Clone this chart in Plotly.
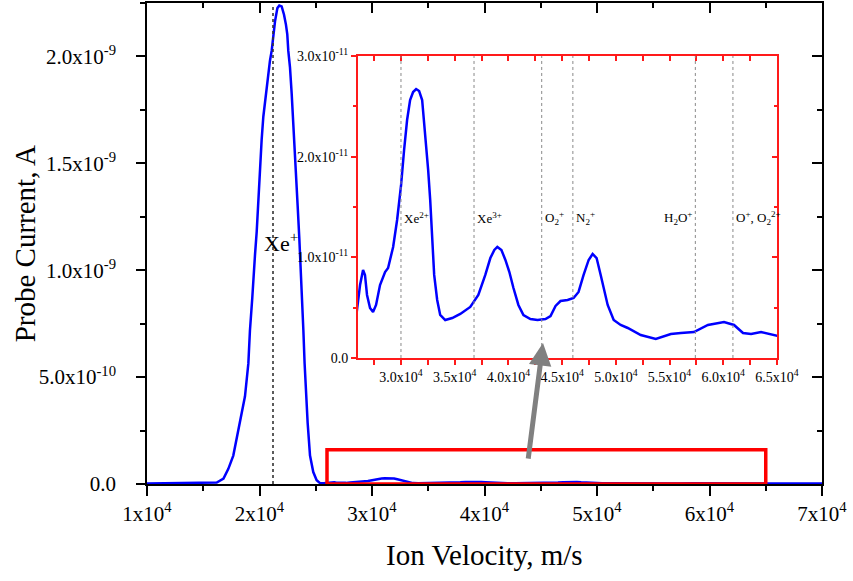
import plotly.graph_objects as go

# ---------------- data ----------------
velocity = [1.00e4, 1.20e4, 1.40e4, 1.55e4, 1.62e4, 1.68e4, 1.723e4, 1.767e4, 1.797e4, 1.841e4,
            1.871e4, 1.901e4, 1.915e4, 1.936e4, 1.945e4, 1.960e4, 1.975e4, 1.990e4, 2.004e4, 2.019e4,
            2.034e4, 2.064e4, 2.093e4, 2.108e4, 2.138e4, 2.159e4, 2.176e4, 2.197e4, 2.218e4, 2.235e4,
            2.247e4, 2.256e4, 2.271e4, 2.286e4, 2.307e4, 2.324e4, 2.339e4, 2.354e4, 2.366e4, 2.378e4,
            2.390e4, 2.401e4, 2.413e4, 2.428e4, 2.449e4, 2.478e4, 2.508e4, 2.538e4, 2.570e4,
            2.600e4, 2.619e4, 2.647e4, 2.665e4, 2.684e4, 2.712e4, 2.740e4, 2.768e4, 2.805e4, 2.852e4,
            2.880e4, 2.927e4, 2.964e4, 3.001e4, 3.029e4, 3.057e4, 3.085e4, 3.113e4, 3.141e4, 3.169e4,
            3.197e4, 3.225e4, 3.253e4, 3.272e4, 3.291e4, 3.309e4, 3.337e4, 3.365e4, 3.412e4, 3.477e4,
            3.552e4, 3.645e4, 3.720e4, 3.785e4, 3.832e4, 3.869e4, 3.897e4, 3.935e4, 3.972e4, 4.009e4,
            4.047e4, 4.093e4, 4.140e4, 4.205e4, 4.271e4, 4.345e4, 4.392e4, 4.439e4, 4.485e4, 4.551e4,
            4.607e4, 4.653e4, 4.700e4, 4.747e4, 4.784e4, 4.821e4, 4.859e4, 4.896e4, 4.924e4, 4.980e4,
            5.045e4, 5.111e4, 5.232e4, 5.372e4, 5.512e4, 5.605e4, 5.727e4, 5.857e4, 6.007e4, 6.100e4,
            6.184e4, 6.259e4, 6.352e4, 6.511e4, 6.800e4, 7.000e4]

# probe current in nA
current_nA = [0.002, 0.003, 0.004, 0.005, 0.007, 0.025, 0.071, 0.133, 0.209, 0.317,
              0.410, 0.564, 0.718, 0.872, 0.964, 1.072, 1.179, 1.333, 1.487, 1.610,
              1.718, 1.857, 1.980, 2.026, 2.164, 2.226, 2.238, 2.234, 2.195, 2.149,
              2.103, 2.026, 1.949, 1.826, 1.641, 1.457, 1.302, 1.149, 1.025, 0.872,
              0.718, 0.564, 0.410, 0.286, 0.133, 0.056, 0.018, 0.004, 0.003,
              0.00576, 0.00725, 0.00874, 0.00825, 0.00626, 0.00497, 0.00457, 0.00527, 0.00725, 0.00854,
              0.00894, 0.01103, 0.01371, 0.01719, 0.02066, 0.02364, 0.02563, 0.02642, 0.02672, 0.02652,
              0.02563, 0.02235, 0.01868, 0.01570, 0.01172, 0.00825, 0.00576, 0.00427, 0.00377, 0.00397,
              0.00437, 0.00507, 0.00626, 0.00825, 0.00993, 0.01073, 0.01103, 0.01073, 0.00974, 0.00854,
              0.00695, 0.00527, 0.00427, 0.00387, 0.00377, 0.00387, 0.00417, 0.00517, 0.00566, 0.00576,
              0.00596, 0.00656, 0.00825, 0.00974, 0.01033, 0.00993, 0.00825, 0.00656, 0.00527, 0.00377,
              0.00328, 0.00298, 0.00228, 0.00189, 0.00238, 0.00248, 0.00258, 0.00328, 0.00358, 0.00328,
              0.00248, 0.00238, 0.00258, 0.00219, 0.00210, 0.00200]

current = [c * 1e-9 for c in current_nA]

main_xticks = [1e4, 2e4, 3e4, 4e4, 5e4, 6e4, 7e4]
main_xticktext = ["1x10<sup>4</sup>", "2x10<sup>4</sup>", "3x10<sup>4</sup>", "4x10<sup>4</sup>",
                  "5x10<sup>4</sup>", "6x10<sup>4</sup>", "7x10<sup>4</sup>"]
main_yticks = [0, 5e-10, 1e-9, 1.5e-9, 2e-9]
main_yticktext = ["0.0", "5.0x10<sup>-10</sup>", "1.0x10<sup>-9</sup>",
                  "1.5x10<sup>-9</sup>", "2.0x10<sup>-9</sup>"]

inset_xticks = [3.0e4, 3.5e4, 4.0e4, 4.5e4, 5.0e4, 5.5e4, 6.0e4, 6.5e4]
inset_xticktext = ["3.0x10<sup>4</sup>", "3.5x10<sup>4</sup>", "4.0x10<sup>4</sup>", "4.5x10<sup>4</sup>",
                   "5.0x10<sup>4</sup>", "5.5x10<sup>4</sup>", "6.0x10<sup>4</sup>", "6.5x10<sup>4</sup>"]
inset_yticks = [0, 1e-11, 2e-11, 3e-11]
inset_yticktext = ["0.0", "1.0x10<sup>-11</sup>", "2.0x10<sup>-11</sup>", "3.0x10<sup>-11</sup>"]

xe1_velocity = 2.12e4
ion_velocities = [3.00e4, 3.68e4, 4.31e4, 4.60e4, 5.74e4, 6.09e4]
ion_labels = ["Xe<sup>2+</sup>", "Xe<sup>3+</sup>", "O<sub>2</sub><sup>+</sup>", "N<sub>2</sub><sup>+</sup>",
              "H<sub>2</sub>O<sup>+</sup>", "O<sup>+</sup>, O<sub>2</sub><sup>2+</sup>"]
ion_label_side = ["left", "left", "left", "left", "right", "left"]

zoom_box_x = [2.6e4, 6.5e4]
zoom_box_y = [0, 1.6e-10]

main_xrange = [1e4, 7e4]
main_yrange = [0, 2.25e-9]
inset_xrange = [2.6e4, 6.5e4]
inset_yrange = [0, 3e-11]

# ---------------- figure ----------------
FONT = "Liberation Serif, Times New Roman, serif"
BLUE = "#0000ff"
RED = "#ff1a1a"

fig = go.Figure()
fig.add_trace(go.Scatter(x=velocity, y=current, mode="lines",
                         line=dict(color=BLUE, width=2.5), xaxis="x", yaxis="y",
                         showlegend=False, hoverinfo="skip"))
fig.add_trace(go.Scatter(x=velocity, y=current, mode="lines",
                         line=dict(color=BLUE, width=2.5), xaxis="x2", yaxis="y2",
                         showlegend=False, hoverinfo="skip"))
# invisible traces so overlay (mirror-tick) axes are drawn
fig.add_trace(go.Scatter(x=[None], y=[None], xaxis="x3", yaxis="y3", showlegend=False, hoverinfo="skip"))
fig.add_trace(go.Scatter(x=[None], y=[None], xaxis="x4", yaxis="y4", showlegend=False, hoverinfo="skip"))

main_dom_x = [0, 1]
main_dom_y = [0, 1]
inset_dom_x = [0.3126, 0.9333]
inset_dom_y = [0.262, 0.8898]

tickfont_main = dict(family=FONT, size=21, color="black")
tickfont_inset = dict(family=FONT, size=14, color="black")

common = dict(showgrid=False, zeroline=False, automargin=False)

fig.update_layout(
    width=853, height=581,
    margin=dict(l=147, r=31, t=3, b=97, autoexpand=False),
    paper_bgcolor="white", plot_bgcolor="white",
    showlegend=False,
    xaxis=dict(domain=main_dom_x, anchor="y", range=main_xrange, **common,
               showline=True, linecolor="black", linewidth=1.5,
               tickmode="array", tickvals=main_xticks, ticktext=main_xticktext,
               ticks="outside", ticklen=10, tickwidth=1.5, tickcolor="black", tickfont=tickfont_main,
               minor=dict(dtick=5000, tick0=0, ticks="outside", ticklen=5, tickwidth=1.5, tickcolor="black")),
    yaxis=dict(domain=main_dom_y, anchor="x", range=main_yrange, **common,
               showline=True, linecolor="black", linewidth=1.5,
               tickmode="array", tickvals=main_yticks, ticktext=main_yticktext,
               ticks="outside", ticklen=9, tickwidth=1.5, tickcolor="black", tickfont=tickfont_main,
               ticklabelstandoff=16,
               minor=dict(dtick=2.5e-10, tick0=0, ticks="outside", ticklen=5, tickwidth=1.5, tickcolor="black")),
    xaxis3=dict(overlaying="x", side="top", anchor="y", range=main_xrange, **common,
                showline=True, linecolor="black", linewidth=1.5, showticklabels=False,
                tickmode="array", tickvals=main_xticks,
                ticks="inside", ticklen=10, tickwidth=1.5, tickcolor="black",
                minor=dict(dtick=5000, tick0=0, ticks="inside", ticklen=5, tickwidth=1.5, tickcolor="black")),
    yaxis3=dict(overlaying="y", side="right", anchor="x", range=main_yrange, **common,
                showline=True, linecolor="black", linewidth=1.5, showticklabels=False,
                tickmode="array", tickvals=main_yticks,
                ticks="inside", ticklen=10, tickwidth=1.5, tickcolor="black",
                minor=dict(dtick=2.5e-10, tick0=0, ticks="inside", ticklen=5, tickwidth=1.5, tickcolor="black")),
    xaxis2=dict(domain=inset_dom_x, anchor="y2", range=inset_xrange, **common,
                showline=True, linecolor=RED, linewidth=2,
                tickmode="array", tickvals=inset_xticks, ticktext=inset_xticktext,
                ticks="outside", ticklen=5, tickwidth=1.5, tickcolor=RED, tickfont=tickfont_inset,
                minor=dict(dtick=2500, tick0=0, ticks="outside", ticklen=5, tickwidth=1.5, tickcolor=RED)),
    yaxis2=dict(domain=inset_dom_y, anchor="x2", range=inset_yrange, **common,
                showline=True, linecolor=RED, linewidth=2,
                tickmode="array", tickvals=inset_yticks, ticktext=inset_yticktext,
                ticks="outside", ticklen=5, tickwidth=1.5, tickcolor=RED, tickfont=tickfont_inset,
                minor=dict(dtick=5e-12, tick0=0, ticks="outside", ticklen=3, tickwidth=1.5, tickcolor=RED)),
    xaxis4=dict(overlaying="x2", side="top", anchor="y2", range=inset_xrange, **common,
                showline=True, linecolor=RED, linewidth=2, showticklabels=False,
                tickmode="array", tickvals=inset_xticks,
                ticks="inside", ticklen=5, tickwidth=1.5, tickcolor=RED,
                minor=dict(dtick=2500, tick0=0, ticks="inside", ticklen=5, tickwidth=1.5, tickcolor=RED)),
    yaxis4=dict(overlaying="y2", side="right", anchor="x2", range=inset_yrange, **common,
                showline=True, linecolor=RED, linewidth=2, showticklabels=False,
                tickmode="array", tickvals=inset_yticks,
                ticks="inside", ticklen=5, tickwidth=1.5, tickcolor=RED,
                minor=dict(dtick=5e-12, tick0=0, ticks="inside", ticklen=3, tickwidth=1.5, tickcolor=RED)),
)

shapes = []
# Xe+ dotted line in main plot
shapes.append(dict(type="line", xref="x", yref="y", x0=xe1_velocity, x1=xe1_velocity,
                   y0=main_yrange[0], y1=main_yrange[1] * 0.995,
                   line=dict(color="#333333", width=1.6, dash="dot")))
# red zoom box
shapes.append(dict(type="rect", xref="x", yref="y", x0=zoom_box_x[0], x1=zoom_box_x[1],
                   y0=zoom_box_y[0], y1=zoom_box_y[1], line=dict(color="#ff0000", width=3.5)))
# ion lines in inset
for v in ion_velocities:
    shapes.append(dict(type="line", xref="x2", yref="y2", x0=v, x1=v,
                       y0=inset_yrange[0], y1=inset_yrange[1],
                       line=dict(color="#888888", width=1, dash="dot")))
fig.update_layout(shapes=shapes)

annotations = []
annotations.append(dict(xref="x", yref="y", x=2.02e4, y=1.13e-9, text="Xe<sup>+</sup>",
                        showarrow=False, xanchor="left", yanchor="middle",
                        font=dict(family=FONT, size=22, color="black")))
for v, lab, side in zip(ion_velocities, ion_labels, ion_label_side):
    annotations.append(dict(xref="x2", yref="y2", x=v, y=1.39e-11, text=lab, showarrow=False,
                            xanchor=side, yanchor="middle", xshift=1 if side == "left" else -1,
                            font=dict(family=FONT, size=13, color="black")))
# axis titles
annotations.append(dict(xref="paper", yref="paper", x=-0.181, y=0.5, text="Probe Current, A",
                        textangle=-90, showarrow=False, xanchor="center", yanchor="middle",
                        font=dict(family=FONT, size=29, color="black")))
annotations.append(dict(xref="paper", yref="paper", x=0.4993, y=-0.148, text="Ion Velocity, m/s",
                        showarrow=False, xanchor="center", yanchor="middle",
                        font=dict(family=FONT, size=29, color="black")))
# gray arrow pointing from zoom box to inset
annotations.append(dict(xref="x", yref="y", x=4.52e4, y=6.59e-10, axref="x", ayref="y",
                        ax=4.387e4, ay=1.12e-10, text="", showarrow=True,
                        arrowhead=2, arrowsize=0.9, arrowwidth=5, arrowcolor="#808080"))
fig.update_layout(annotations=annotations)

fig.write_html("out.html", config={"displayModeBar": False},
               post_script="document.body.style.margin='0px';document.body.style.overflow='hidden';")
